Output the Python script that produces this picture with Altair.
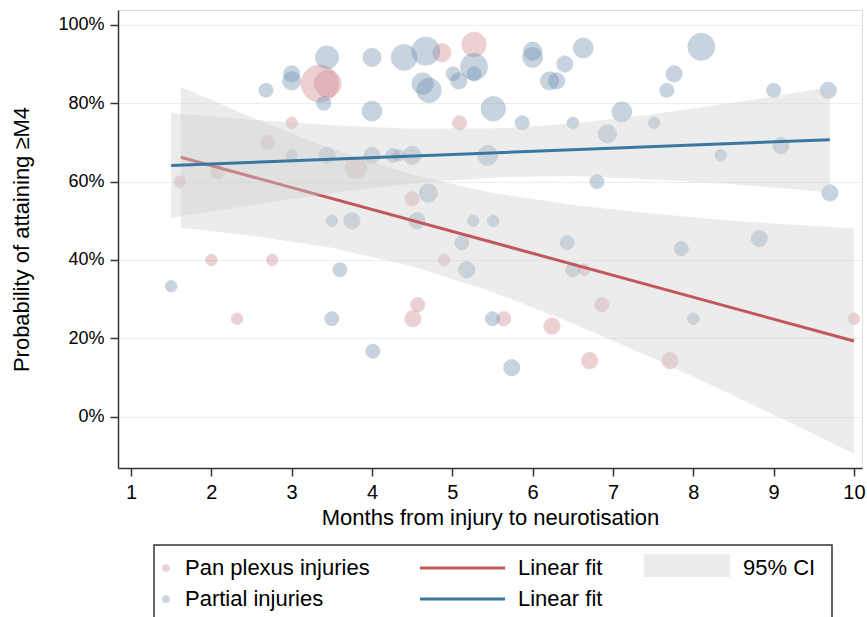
import altair as alt
import pandas as pd

# ---------------- data ----------------
# Pan plexus injuries (months, % attaining >=M4, weight)
pan_x = [1.61, 2.00, 2.08, 2.32, 2.70, 2.76, 3.00, 3.35, 3.45, 3.80, 4.50, 4.51,
         4.57, 4.87, 4.90, 5.09, 5.27, 5.64, 6.24, 6.64, 6.71, 6.86, 7.71, 10.00]
pan_y = [60.0, 40.0, 62.5, 25.0, 70.0, 40.0, 75.0, 85.0, 85.0, 63.6, 55.6, 25.0,
         28.6, 92.9, 40.0, 75.0, 95.0, 25.0, 23.1, 37.5, 14.3, 28.6, 14.3, 25.0]
pan_n = [2, 2, 3, 2, 3, 2, 2, 21, 11, 7, 3, 4,
         3, 5, 2, 3, 9, 3, 4, 2, 4, 3, 4, 2]

# Partial injuries
part_x = [1.50, 2.68, 3.00, 3.00, 3.00, 3.44, 3.40, 3.44, 3.50, 3.75, 3.60, 3.50,
          4.00, 4.00, 4.00, 4.01, 4.26, 4.33, 4.40, 4.50, 4.56, 4.67, 4.63, 4.71,
          4.70, 5.01, 5.08, 5.27, 5.27, 5.12, 5.18, 5.26, 5.44, 5.51, 5.51, 5.50,
          5.74, 5.87, 6.00, 6.00, 6.21, 6.30, 6.40, 6.43, 6.50, 6.50, 6.63, 6.80,
          6.93, 7.11, 7.51, 7.67, 7.76, 7.85, 8.00, 8.10, 8.34, 8.82, 9.00, 9.09,
          9.68, 9.70]
part_y = [33.3, 83.3, 87.5, 85.7, 66.7, 91.7, 80.0, 66.7, 50.0, 50.0, 37.5, 25.0,
          91.7, 78.0, 66.7, 16.7, 66.7, 66.7, 91.7, 66.7, 50.0, 93.3, 85.0, 83.3,
          57.1, 87.5, 85.7, 89.3, 87.5, 44.4, 37.5, 50.0, 66.7, 78.6, 50.0, 25.0,
          12.5, 75.0, 93.3, 91.7, 85.7, 85.7, 90.0, 44.4, 37.5, 75.0, 94.1, 60.0,
          72.2, 77.8, 75.0, 83.3, 87.5, 42.9, 25.0, 94.4, 66.7, 45.5, 83.3, 69.2,
          83.3, 57.1]
part_n = [2, 3, 4, 5, 2, 8, 3, 4, 2, 4, 3, 3,
          5, 6, 4, 3, 3, 2, 10, 5, 4, 12, 7, 9,
          5, 3, 4, 11, 3, 3, 4, 2, 6, 9, 2, 3,
          4, 3, 5, 6, 5, 4, 4, 3, 3, 2, 6, 3,
          5, 6, 2, 3, 4, 3, 2, 11, 2, 4, 3, 4,
          4, 4]

# Linear fits (end points)
pan_fit_x = [1.62, 10.0]
pan_fit_y = [66.2, 19.3]
part_fit_x = [1.50, 9.70]
part_fit_y = [64.1, 70.7]

# 95% CI bands
pan_ci_x = [1.62, 2.5, 3.5, 4.5, 5.5, 6.5, 7.5, 8.5, 10.0]
pan_ci_lo = [48.2, 46.2, 43.1, 38.4, 31.9, 23.8, 14.9, 5.4, -9.4]
pan_ci_hi = [84.2, 76.4, 68.3, 61.8, 57.1, 54.0, 51.8, 50.0, 48.0]
part_ci_x = [1.5, 2.5, 3.5, 4.5, 5.6, 6.5, 7.5, 8.5, 9.7]
part_ci_lo = [50.7, 54.0, 57.0, 59.5, 61.2, 61.4, 60.6, 59.3, 57.3]
part_ci_hi = [77.5, 75.8, 74.4, 73.5, 73.6, 74.8, 77.2, 80.1, 84.1]

x_ticks = [1, 2, 3, 4, 5, 6, 7, 8, 9, 10]
y_ticks = [0, 20, 40, 60, 80, 100]

# ---------------- styling ----------------
FONT = "Liberation Sans"
RED_PT = "#c97e84"
BLUE_PT = "#6287a9"
RED_LN = "#c0585c"
BLUE_LN = "#3a78a2"
BAND = "#cfcfcf"

W, H = 744, 458
X_DOM = [0.838, 10.1]
Y_DOM = [-13.1, 103.8]

pan = pd.DataFrame({"x": pan_x, "y": pan_y, "n": pan_n})
part = pd.DataFrame({"x": part_x, "y": part_y, "n": part_n})
pan_fit = pd.DataFrame({"x": pan_fit_x, "y": pan_fit_y})
part_fit = pd.DataFrame({"x": part_fit_x, "y": part_fit_y})
pan_ci = pd.DataFrame({"x": pan_ci_x, "lo": pan_ci_lo, "hi": pan_ci_hi})
part_ci = pd.DataFrame({"x": part_ci_x, "lo": part_ci_lo, "hi": part_ci_hi})

xs = alt.Scale(domain=X_DOM, nice=False, zero=False)
ys = alt.Scale(domain=Y_DOM, nice=False, zero=False)
size_scale = alt.Scale(type="linear", domain=[0, 20], range=[0, 1320])

x_axis = alt.Axis(values=x_ticks, format="d",
                  title="Months from injury to neurotisation",
                  grid=False, tickSize=8, labelPadding=6, titlePadding=5,
                  labelFontSize=20, titleFontSize=22, labelColor="black",
                  titleColor="black", titleFontWeight="normal",
                  domainColor="#333333", tickColor="#333333", domainWidth=1.5,
                  tickWidth=1.5, labelFont=FONT, titleFont=FONT)
y_axis = alt.Axis(values=y_ticks, labelExpr="datum.value + '%'",
                  title="Probability of attaining \u2265M4",
                  grid=True, gridColor="#e6f0f1", gridWidth=1,
                  tickSize=8, labelPadding=6, titlePadding=24,
                  labelFontSize=18, titleFontSize=22, labelColor="black",
                  titleColor="black", titleFontWeight="normal",
                  domainColor="#333333", tickColor="#333333", domainWidth=1.5,
                  tickWidth=1.5, labelFont=FONT, titleFont=FONT)


def pts(df, color):
    return alt.Chart(df).mark_circle(color=color, opacity=0.35, stroke=color,
                                     strokeWidth=1).encode(
        x=alt.X("x:Q", scale=xs, axis=x_axis),
        y=alt.Y("y:Q", scale=ys, axis=y_axis),
        size=alt.Size("n:Q", scale=size_scale, legend=None),
    )


def band(df):
    return alt.Chart(df).mark_area(color=BAND, opacity=0.4, clip=True).encode(
        x=alt.X("x:Q", scale=xs),
        y=alt.Y("lo:Q", scale=ys),
        y2="hi:Q",
    )


def fit(df, color):
    return alt.Chart(df).mark_line(color=color, strokeWidth=3, clip=True).encode(
        x=alt.X("x:Q", scale=xs),
        y=alt.Y("y:Q", scale=ys),
    )


one = pd.DataFrame({"k": [0]})
ROW1, ROW2 = 558, 589


def ltext(txt, x, y):
    return alt.Chart(one).mark_text(align="left", baseline="middle", font=FONT,
                                    fontSize=22, color="black").encode(
        x=alt.value(x), y=alt.value(y), text=alt.value(txt))


legend_box = alt.Chart(one).mark_rect(fillOpacity=0, stroke="#333333",
                                      strokeWidth=1.5).encode(
    x=alt.value(36), x2=alt.value(714), y=alt.value(535), y2=alt.value(640))
legend_layers = [
    legend_box,
    alt.Chart(one).mark_circle(color=RED_PT, opacity=0.35, size=60).encode(
        x=alt.value(48), y=alt.value(ROW1)),
    alt.Chart(one).mark_circle(color=BLUE_PT, opacity=0.35, size=60).encode(
        x=alt.value(48), y=alt.value(ROW2)),
    ltext("Pan plexus injuries", 67, ROW1),
    ltext("Partial injuries", 67, ROW2),
    alt.Chart(one).mark_rule(color=RED_LN, strokeWidth=3).encode(
        x=alt.value(302), x2=alt.value(387), y=alt.value(ROW1)),
    alt.Chart(one).mark_rule(color=BLUE_LN, strokeWidth=3).encode(
        x=alt.value(302), x2=alt.value(387), y=alt.value(ROW2)),
    ltext("Linear fit", 400, ROW1),
    ltext("Linear fit", 400, ROW2),
    alt.Chart(one).mark_rect(color=BAND, opacity=0.4).encode(
        x=alt.value(526), x2=alt.value(612), y=alt.value(544), y2=alt.value(567)),
    ltext("95% CI", 625, ROW1),
]

chart = alt.layer(
    pts(pan, RED_PT),
    pts(part, BLUE_PT),
    band(pan_ci),
    fit(pan_fit, RED_LN),
    band(part_ci),
    fit(part_fit, BLUE_LN),
    *legend_layers,
).properties(
    width=W, height=H,
    autosize=alt.AutoSizeParams(type="none"),
    padding={"left": 118, "top": 10, "right": 5, "bottom": 149},
).configure_view(stroke=None).configure(font=FONT)

chart.save("out.html", embed_options={"renderer": "svg", "actions": False})
